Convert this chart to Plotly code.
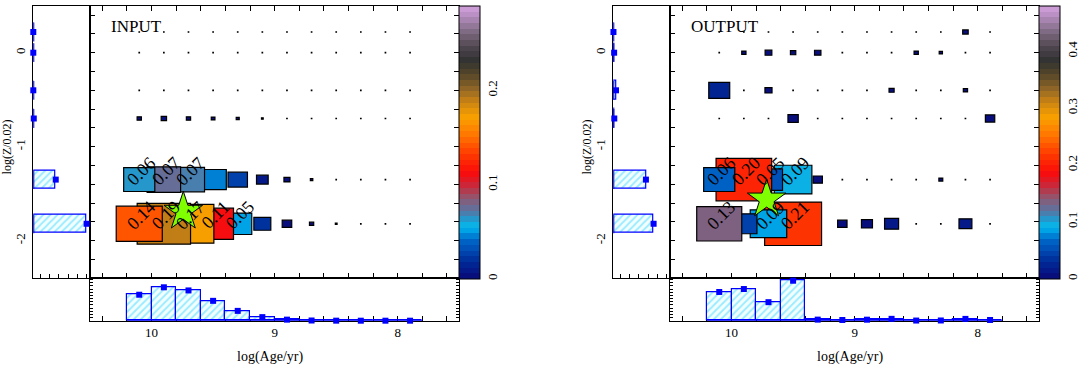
import numpy as np
import plotly.graph_objects as go
from plotly.colors import sample_colorscale

W, H = 1079, 369

# ---------------- data ----------------
ages = [10.1, 9.9, 9.7, 9.5, 9.3, 9.1, 8.9, 8.7, 8.5, 8.3, 8.1, 7.9]   # log(Age/yr) grid
log_z = [0.22, 0.0, -0.4, -0.7, -1.35, -1.82]                          # log(Z/0.02) grid

input_weights = [
    [0, 0, 0, 0, 0, 0, 0, 0, 0, 0, 0, 0],
    [0, 0, 0, 0, 0, 0, 0, 0, 0, 0, 0, 0],
    [0, 0, 0, 0, 0, 0, 0, 0, 0, 0, 0, 0],
    [0.0012, 0.0019, 0.0012, 0.0009, 0.0006, 0.0002, 0, 0, 0, 0, 0, 0],
    [0.064, 0.074, 0.068, 0.046, 0.025, 0.009, 0.0024, 0.0004, 0, 0, 0, 0],
    [0.140, 0.188, 0.170, 0.110, 0.052, 0.019, 0.006, 0.0012, 0.0002, 0, 0, 0],
]
output_weights = [
    [0, 0, 0, 0, 0, 0, 0, 0, 0, 0, 0.002, 0],
    [0, 0.0012, 0.003, 0.0019, 0.0027, 0, 0, 0, 0.0012, 0.0007, 0, 0],
    [0.029, 0, 0.0033, 0, 0, 0, 0, 0.0017, 0, 0, 0.0012, 0],
    [0, 0, 0, 0.007, 0, 0, 0, 0, 0, 0, 0, 0.0058],
    [0.064, 0.204, 0.052, 0.093, 0.0058, 0, 0, 0, 0, 0.001, 0, 0],
    [0.134, 0.045, 0.088, 0.214, 0, 0.0058, 0.008, 0.013, 0, 0, 0.011, 0],
]
panel_titles = ["INPUT", "OUTPUT"]
color_max = [0.29, 0.48]
colorbar_ticks = [[0, 0.1, 0.2], [0, 0.1, 0.2, 0.3, 0.4]]
star_age = [9.742, 9.715]
star_logz = [-1.69, -1.56]
x_tick_labels = [10, 9, 8]
y_tick_labels = [0, -1, -2]
label_threshold = 0.05

# colour table (fraction, rgb)
base_stops = [
    [0.00, "rgb(10,10,120)"], [0.06, "rgb(0,40,150)"], [0.14, "rgb(0,100,200)"],
    [0.19, "rgb(0,185,240)"], [0.22, "rgb(40,150,200)"], [0.25, "rgb(90,115,160)"],
    [0.28, "rgb(125,98,130)"], [0.31, "rgb(160,75,95)"], [0.34, "rgb(200,40,60)"],
    [0.39, "rgb(250,10,10)"], [0.46, "rgb(255,60,0)"], [0.53, "rgb(255,120,0)"],
    [0.59, "rgb(250,160,0)"], [0.65, "rgb(200,130,20)"], [0.70, "rgb(140,100,40)"],
    [0.75, "rgb(85,70,40)"], [0.80, "rgb(50,50,50)"], [0.85, "rgb(80,70,80)"],
    [0.91, "rgb(130,110,135)"], [0.96, "rgb(180,140,190)"], [1.00, "rgb(210,160,220)"],
]
NBANDS = 48
band_colors = sample_colorscale(base_stops, [(i + 0.5) / NBANDS for i in range(NBANDS)])
banded = []
for i, c in enumerate(band_colors):
    banded.append([i / NBANDS, c])
    banded.append([(i + 1) / NBANDS, c])


def value_color(v, vmax):
    k = int(min(max(v / vmax, 0), 0.9999) * NBANDS)
    return band_colors[k]


FONT = "Liberation Serif"


def fx(px):
    return px / W


def fy(py):
    return 1 - py / H


def akey(letter, n):
    return f"{letter}axis" + ("" if n == 1 else str(n))


def aref(letter, n):
    return letter + ("" if n == 1 else str(n))


fig = go.Figure()
layout = dict(
    width=W, height=H, margin=dict(l=0, r=0, t=0, b=0, autoexpand=False),
    paper_bgcolor="white", plot_bgcolor="white", showlegend=False,
    font=dict(family=FONT, color="black", size=13),
)
shapes = []
annotations = []

common = dict(showline=True, linecolor="black", linewidth=1, showgrid=False,
              zeroline=False, ticks="inside", tickcolor="black", tickwidth=1)

HATCH = dict(color="#eafcff", line=dict(color="blue", width=1.2),
             pattern=dict(shape="/", fgcolor="#3fd8ff", bgcolor="#f2feff", size=5, solidity=0.35))

x_range = [10.5, 7.5]
y_range = [-2.4, 0.5]
x_tickvals = [round(10.4 - 0.2 * i, 1) for i in range(15)]
x_ticktext = [str(int(round(v))) if round(v) in x_tick_labels and abs(v - round(v)) < 1e-6 else "" for v in x_tickvals]

for p, weights in enumerate([input_weights, output_weights]):
    dx = 580 * p
    b = 4 * p
    m, lh, bh, ex = b + 1, b + 2, b + 3, b + 4
    wts = np.array(weights, dtype=float)
    row_sum = wts.sum(axis=1)
    col_sum = wts.sum(axis=0)
    vmax = color_max[p]

    main_dom_x = [fx(90 + dx), fx(459.3 + dx)]
    lh_dom_x = [fx(33.3 + dx), fx(90 + dx)]
    main_dom_y = [fy(278.3), fy(5.7)]
    bh_dom_y = [fy(320.7), fy(278.3)]

    # main panel axes
    layout[akey("x", m)] = dict(common, domain=main_dom_x, anchor=aref("y", m), range=x_range,
                                tick0=0, dtick=0.2, ticklen=5, showticklabels=False, mirror="ticks")
    layout[akey("y", m)] = dict(common, domain=main_dom_y, anchor=aref("x", m), range=y_range,
                                tick0=0, dtick=0.2, ticklen=5, showticklabels=False, mirror="ticks")
    layout[akey("y", ex)] = dict(overlaying=aref("y", m), anchor=aref("x", m), side="left",
                                 range=y_range, tick0=0, dtick=0.2, ticks="outside", ticklen=5,
                                 tickcolor="black", showticklabels=False, showline=False,
                                 showgrid=False, zeroline=False)
    # left histogram axes
    layout[akey("x", lh)] = dict(common, domain=lh_dom_x, anchor=aref("y", lh), range=[0, 0.73],
                                 tick0=0.09, dtick=0.12, ticklen=4, showticklabels=False, mirror=True)
    layout[akey("y", lh)] = dict(common, domain=main_dom_y, anchor=aref("x", lh), range=y_range,
                                 ticks="", tickmode="array", tickvals=y_tick_labels,
                                 ticktext=[str(v) for v in y_tick_labels], tickangle=-90,
                                 tickfont=dict(size=13), mirror=True, layer="below traces",
                                 ticklabelstandoff=2)
    # bottom histogram axes
    layout[akey("x", bh)] = dict(common, domain=main_dom_x, anchor=aref("y", bh), range=x_range,
                                 tickmode="array", tickvals=x_tickvals, ticktext=x_ticktext,
                                 ticklen=5, tickfont=dict(size=13), mirror=True, layer="below traces")
    layout[akey("y", bh)] = dict(common, domain=bh_dom_y, anchor=aref("x", bh), range=[0, 0.335],
                                 tick0=0, dtick=0.025, ticklen=3, showticklabels=False, mirror="ticks")

    xm, ym = aref("x", m), aref("y", m)

    # weight boxes: right columns first so left columns sit on top
    min_dx, min_dy = 0.5 / 123.1, 0.5 / 93.9
    for r, z in enumerate(log_z):
        for c in reversed(range(len(ages))):
            v = wts[r, c]
            s = np.sqrt(v)
            hx = max(s, min_dx) / 2
            hy = max(s, min_dy) / 2
            shapes.append(dict(type="rect", xref=xm, yref=ym, layer="below",
                               x0=ages[c] + hx, x1=ages[c] - hx, y0=z - hy, y1=z + hy,
                               fillcolor=value_color(v, vmax),
                               line=dict(color="black", width=1.2)))
            if v >= label_threshold:
                annotations.append(dict(xref=xm, yref=ym, x=ages[c], y=z, text=f"{v:.2f}",
                                        showarrow=False, textangle=-45, xshift=2, yshift=9,
                                        font=dict(family=FONT, size=18, color="black")))

    # star
    fig.add_trace(go.Scatter(x=[star_age[p]], y=[star_logz[p]], xaxis=xm, yaxis=ym, mode="markers",
                             marker=dict(symbol="star", size=29, color="#7fff00",
                                         line=dict(color="black", width=1)),
                             hoverinfo="skip"))
    # colour bar carrier
    fig.add_trace(go.Scatter(x=[ages[0]], y=[log_z[0]], xaxis=xm, yaxis=ym, mode="markers",
                             marker=dict(size=0.1, opacity=0, color=[0], cmin=0, cmax=vmax,
                                         colorscale=banded, showscale=True,
                                         colorbar=dict(x=fx(459.3 + dx), xanchor="left", y=fy(5.7),
                                                       yanchor="top", len=(278.3 - 5.7) / H,
                                                       lenmode="fraction", thickness=21.4,
                                                       thicknessmode="pixels", xpad=0, ypad=0,
                                                       outlinewidth=1, outlinecolor="black",
                                                       tickmode="array", tickvals=colorbar_ticks[p],
                                                       ticktext=[("0" if t == 0 else f"{t:g}") for t in colorbar_ticks[p]],
                                                       ticks="", tickangle=-90,
                                                       tickfont=dict(family=FONT, size=13))),
                             hoverinfo="skip"))

    # left histogram (metallicity)
    xl, yl = aref("x", lh), aref("y", lh)
    fig.add_trace(go.Bar(x=row_sum, y=log_z, orientation="h", width=0.2, xaxis=xl, yaxis=yl,
                         marker=HATCH, hoverinfo="skip"))
    seg_x, seg_y = [], []
    for z in log_z:
        seg_x += [0, 0, None]
        seg_y += [z - 0.1, z + 0.1, None]
    fig.add_trace(go.Scatter(x=seg_x, y=seg_y, xaxis=xl, yaxis=yl, mode="lines",
                             line=dict(color="blue", width=2), hoverinfo="skip"))
    fig.add_trace(go.Scatter(x=row_sum, y=log_z, xaxis=xl, yaxis=yl, mode="markers", cliponaxis=False,
                             marker=dict(symbol="square", size=6, color="blue"), hoverinfo="skip"))

    # bottom histogram (age)
    xb, yb = aref("x", bh), aref("y", bh)
    fig.add_trace(go.Bar(x=ages, y=col_sum, width=0.2, xaxis=xb, yaxis=yb,
                         marker=HATCH, hoverinfo="skip"))
    fig.add_trace(go.Scatter(x=[ages[0] + 0.1, ages[-1] - 0.1], y=[0, 0], xaxis=xb, yaxis=yb,
                             mode="lines", line=dict(color="blue", width=2), hoverinfo="skip"))
    fig.add_trace(go.Scatter(x=ages, y=col_sum, xaxis=xb, yaxis=yb, mode="markers", cliponaxis=False,
                             marker=dict(symbol="square", size=6, color="blue"), hoverinfo="skip"))

    # texts
    annotations.append(dict(xref="paper", yref="paper", x=fx(109.3 + dx), y=fy(26.5),
                            xanchor="left", yanchor="middle", text=panel_titles[p], showarrow=False,
                            font=dict(family=FONT, size=17, color="black")))
    annotations.append(dict(xref="paper", yref="paper", x=fx(270 + dx), y=fy(357),
                            xanchor="center", yanchor="middle", text="log(Age/yr)", showarrow=False,
                            font=dict(family=FONT, size=14, color="black")))
    annotations.append(dict(xref="paper", yref="paper", x=fx(6.7 + dx), y=fy(146.7),
                            xanchor="center", yanchor="middle", text="log(Z/0.02)", showarrow=False,
                            textangle=-90, font=dict(family=FONT, size=12, color="black")))

layout["shapes"] = shapes
layout["annotations"] = annotations
layout["bargap"] = 0
fig.update_layout(layout)
fig.write_html("out.html", config={"displayModeBar": False},
               post_script="document.body.style.margin='0';document.body.style.overflow='hidden';")
